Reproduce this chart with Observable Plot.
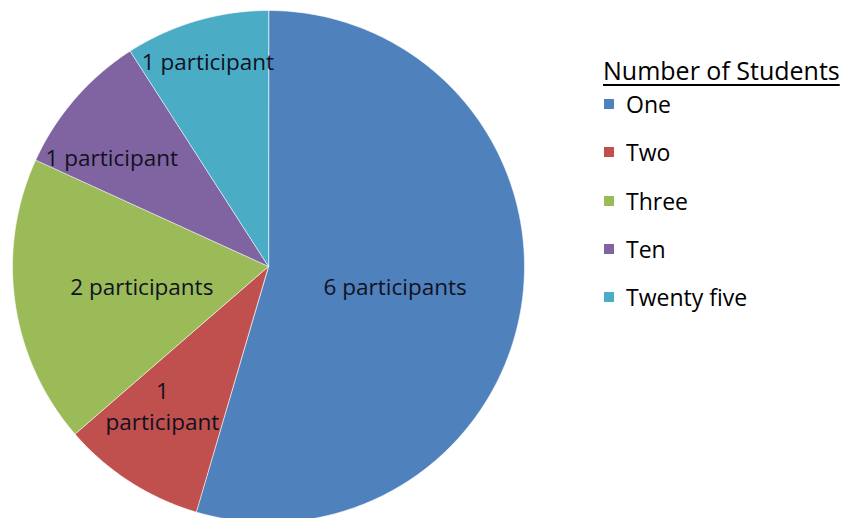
<!DOCTYPE html>
<html>
<head>
<meta charset="utf-8">
<script src="https://cdn.jsdelivr.net/npm/d3@7"></script>
<script src="https://cdn.jsdelivr.net/npm/@observablehq/plot@0.6"></script>
<style>
  html, body { margin: 0; padding: 0; background: #fff; overflow: hidden; }
  #wrap { position: relative; width: 847px; height: 518px; }
  #legend { position: absolute; left: 603px; top: 56px; font-family: "Open Sans", sans-serif; color: #000; }
  #legend .title { font-size: 25px; text-decoration: underline; text-underline-offset: 4px; text-decoration-thickness: 1.5px; line-height: 28px; margin-bottom: -4px; white-space: nowrap; }
  #legend .item { display: flex; align-items: center; height: 48.3px; font-size: 23px; white-space: nowrap; }
  #legend .sw { width: 10px; height: 10px; margin-left: 1px; margin-right: 12px; }
</style>
</head>
<body>
<div id="wrap"></div>
<script>
// Data
const categories = ["One", "Two", "Three", "Ten", "Twenty five"];
const counts = [6, 1, 2, 1, 1];
const sliceLabels = ["6 participants", "1\nparticipant", "2 participants", "1 participant", "1 participant"];
const colors = ["#4F81BD", "#C0504D", "#9BBB59", "#8064A2", "#4BACC6"];
const legendTitle = "Number of Students";

// layout: label distance from centre (fraction of radius) and angular nudge (degrees)
const labelRadius = [0.5, 0.68, 0.5, 0.75, 0.84];
const labelTurn = [0, 4.8, 0, -5.6, 0];

const arcs = d3.pie().sort(null).value(d => d)(counts);

// Polygon vertices for each slice in unit-circle data space (y up, 0 = 12 o'clock, clockwise)
const slicePts = [];
arcs.forEach((a, i) => {
  const cat = categories[i];
  slicePts.push({cat, x: 0, y: 0});
  const n = Math.max(2, Math.ceil((a.endAngle - a.startAngle) / (Math.PI / 360)));
  for (let k = 0; k <= n; k++) {
    const t = a.startAngle + (a.endAngle - a.startAngle) * k / n;
    slicePts.push({cat, x: Math.sin(t), y: Math.cos(t)});
  }
});

const labelPts = arcs.map((a, i) => {
  const m = (a.startAngle + a.endAngle) / 2 + labelTurn[i] * Math.PI / 180;
  return {x: Math.sin(m) * labelRadius[i], y: Math.cos(m) * labelRadius[i], text: sliceLabels[i]};
});

const chart = Plot.plot({
  width: 847,
  height: 518,
  margin: 0,
  style: {background: "white", overflow: "visible"},
  x: {domain: [-1, 1], range: [12, 524], axis: null},
  y: {domain: [-1, 1], range: [522, 10], axis: null},
  color: {domain: categories, range: colors},
  marks: [
    Plot.line(slicePts, {x: "x", y: "y", z: "cat", fill: "cat", stroke: "#ffffff", strokeOpacity: 0.6, strokeWidth: 1, curve: "linear-closed"}),
    Plot.text(labelPts, {x: "x", y: "y", text: "text", fill: "#111122", fontSize: 22.5, fontFamily: "Open Sans", lineHeight: 1.4, textAnchor: "middle"})
  ]
});

const wrap = document.getElementById("wrap");
wrap.appendChild(chart);

const legend = document.createElement("div");
legend.id = "legend";
const t = document.createElement("div");
t.className = "title";
t.textContent = legendTitle;
legend.appendChild(t);
categories.forEach((c, i) => {
  const it = document.createElement("div");
  it.className = "item";
  const sw = document.createElement("span");
  sw.className = "sw";
  sw.style.background = chart.scale("color").apply(c);
  const lb = document.createElement("span");
  lb.textContent = c;
  it.appendChild(sw);
  it.appendChild(lb);
  legend.appendChild(it);
});
wrap.appendChild(legend);
</script>
</body>
</html>
